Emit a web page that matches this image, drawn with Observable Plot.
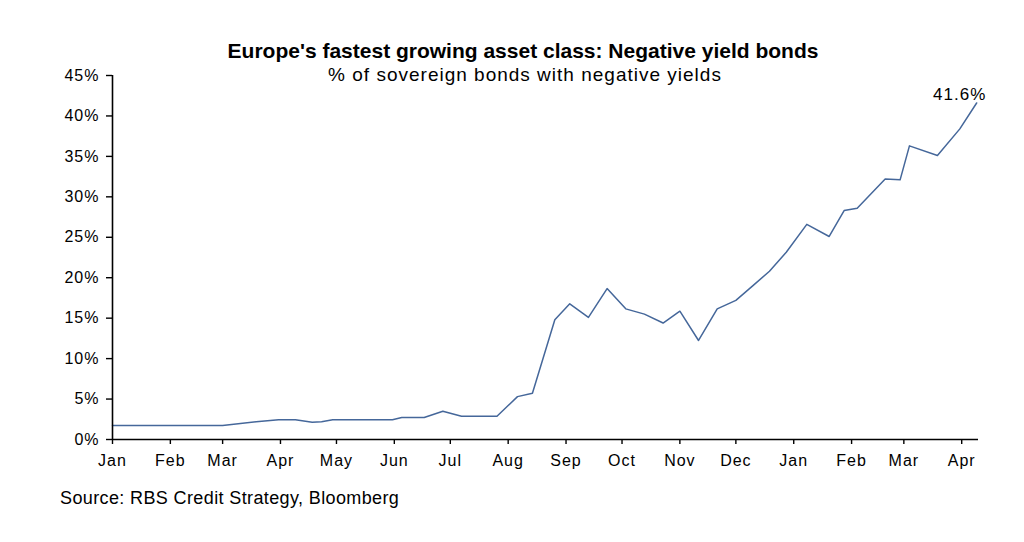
<!DOCTYPE html>
<html>
<head>
<meta charset="utf-8">
<script src="https://cdn.jsdelivr.net/npm/d3@7"></script>
<script src="https://cdn.jsdelivr.net/npm/@observablehq/plot@0.6"></script>
<style>
  html, body { margin: 0; padding: 0; background: #fff; }
  #wrap { position: relative; width: 1024px; height: 542px; overflow: hidden; font-family: "Liberation Sans", Arial, sans-serif; color: #000; }
  .t { position: absolute; white-space: nowrap; }
  #title { top: 40px; left: 523px; transform: translateX(-50%); font-size: 21px; line-height: 21px; font-weight: bold; }
  #subtitle { top: 65px; left: 525px; transform: translateX(-50%); font-size: 19px; line-height: 19px; letter-spacing: 1px; }
  #source { top: 489px; left: 60px; font-size: 18px; line-height: 18px; letter-spacing: 0.38px; }
  #chart { position: absolute; top: 55px; left: 0; }
  #chart svg text { letter-spacing: 1px; }
</style>
</head>
<body>
<div id="wrap">
  <div id="title" class="t">Europe's fastest growing asset class: Negative yield bonds</div>
  <div id="subtitle" class="t">% of sovereign bonds with negative yields</div>
  <div id="chart"></div>
  <div id="source" class="t">Source: RBS Credit Strategy, Bloomberg</div>
</div>
<script>
// Data (% of sovereign bonds with negative yields)
const dates = [
  "2014-01-01","2014-03-01","2014-03-19","2014-03-31","2014-04-09","2014-04-18","2014-04-23","2014-04-29",
  "2014-05-31","2014-06-05","2014-06-17","2014-06-27","2014-07-07","2014-07-26","2014-08-06","2014-08-14",
  "2014-08-26","2014-09-03","2014-09-13","2014-09-23","2014-10-03","2014-10-13","2014-10-23","2014-11-01",
  "2014-11-11","2014-11-21","2014-12-01","2014-12-10","2014-12-19","2014-12-28","2015-01-08","2015-01-20",
  "2015-01-28","2015-02-04","2015-02-19","2015-02-27","2015-03-04","2015-03-19","2015-03-31","2015-04-09"
];
const values = [
  1.73, 1.73, 2.19, 2.43, 2.43, 2.14, 2.2, 2.43,
  2.43, 2.72, 2.72, 3.5, 2.88, 2.88, 5.3, 5.72,
  14.8, 16.77, 15.1, 18.66, 16.15, 15.5, 14.4, 15.86,
  12.24, 16.15, 17.2, 19.0, 20.8, 23.15, 26.6, 25.1,
  28.3, 28.6, 32.2, 32.1, 36.3, 35.1, 38.4, 41.6
];
const yTicks = [0, 5, 10, 15, 20, 25, 30, 35, 40, 45];
const monthTicks = [
  "2014-01-01","2014-02-01","2014-03-01","2014-04-01","2014-05-01","2014-06-01","2014-07-01","2014-08-01",
  "2014-09-01","2014-10-01","2014-11-01","2014-12-01","2015-01-01","2015-02-01","2015-03-01","2015-04-01"
];
const xDomain = ["2014-01-01", "2015-04-10"];
const endLabel = "41.6%";

const data = dates.map((d, i) => ({date: new Date(d + "T00:00:00Z"), value: values[i]}));
const last = data[data.length - 1];

const chart = Plot.plot({
  width: 1024,
  height: 425,
  marginLeft: 112,
  marginRight: 46,
  marginTop: 20,
  marginBottom: 41,
  style: {fontFamily: '"Liberation Sans", Arial, sans-serif', fontSize: "16px", color: "#000", background: "transparent"},
  x: {type: "utc", domain: xDomain.map(d => new Date(d + "T00:00:00Z"))},
  y: {domain: [0, 45]},
  marks: [
    Plot.axisY({ticks: yTicks, tickFormat: d => d + "%", tickSize: 6, tickPadding: 7, strokeWidth: 1.4, fontSize: 16, label: null}),
    Plot.axisX({ticks: monthTicks.map(d => new Date(d + "T00:00:00Z")), tickFormat: d3.utcFormat("%b"), tickSize: 5, tickPadding: 10, strokeWidth: 1.4, fontSize: 16, label: null}),
    Plot.line(data, {x: "date", y: "value", stroke: "#45679a", strokeWidth: 1.5}),
    Plot.ruleY([0], {stroke: "#000", strokeWidth: 1.6}),
    Plot.ruleX([new Date(xDomain[0] + "T00:00:00Z")], {stroke: "#000", strokeWidth: 1.6}),
    Plot.text([last], {x: "date", y: "value", text: () => endLabel, textAnchor: "middle", lineAnchor: "middle", dx: -17, dy: -8, fontSize: 17, fill: "#000"})
  ]
});
document.getElementById("chart").appendChild(chart);
</script>
</body>
</html>
